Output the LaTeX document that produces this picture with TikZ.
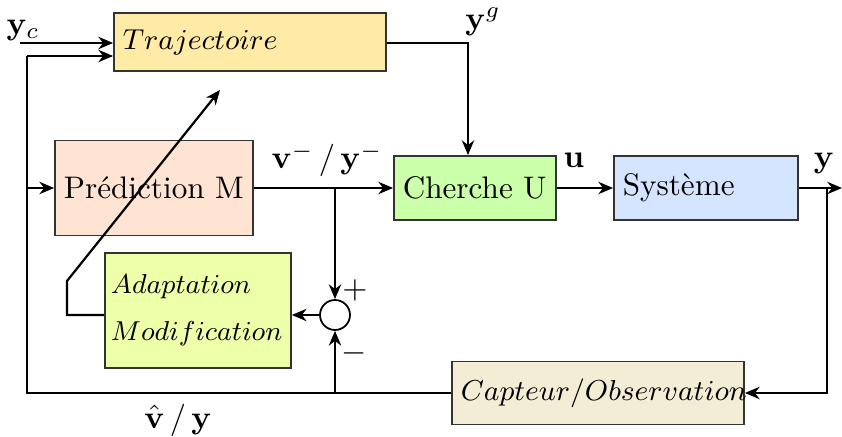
\RequirePackage{fix-cm}
\documentclass[tikz,border=0pt]{standalone}
\usetikzlibrary{arrows.meta}
\definecolor{ctraj}{HTML}{FFEBA6}
\definecolor{cpred}{HTML}{FFE4D4}
\definecolor{ccher}{HTML}{CCFFAA}
\definecolor{csys}{HTML}{D6E5FF}
\definecolor{cadapt}{HTML}{EEFFAA}
\definecolor{ccapt}{HTML}{F4EDD6}
\definecolor{cbord}{HTML}{333333}
\begin{document}
\begin{tikzpicture}[x=0.34pt,y=-0.34pt,
  blk/.style={draw=cbord, line width=0.6pt, inner xsep=3pt, inner ysep=0pt, align=left, anchor=center, font=\fontsize{10.6}{13}\selectfont},
  itblk/.style={blk, font=\fontsize{9.8}{12}\selectfont},
  sig/.style={line width=0.75pt, -{Stealth[length=5pt,width=4.2pt,inset=1.6pt]}},
  wire/.style={line width=0.75pt},
  lab/.style={inner sep=0pt, anchor=center, font=\fontsize{11}{13}\selectfont}]
\useasboundingbox (0,0) rectangle (842,437);
% blocks
\node[itblk, fill=ctraj, minimum width=92.5pt, minimum height=19.7pt, text width=86.5pt] (traj) at (250,42) {$Trajectoire$};
\node[blk, fill=cpred, minimum width=67.3pt, minimum height=32.3pt, text width=61.3pt] (pred) at (154,188) {Prédiction M};
\node[blk, fill=ccher, minimum width=55.1pt, minimum height=21.8pt, text width=49.1pt] (cher) at (475,188) {Cherche U};
\node[blk, fill=csys, minimum width=62.6pt, minimum height=21.8pt, text width=56.6pt] (sys) at (706,188) {Système};
\node[itblk, font=\fontsize{9.3}{12}\selectfont, inner xsep=2pt, fill=cadapt, minimum width=63.2pt, minimum height=39.1pt, text width=59.2pt] (adapt) at (198,310.5) {$Adaptation$\\[4pt]$Modification$};
\node[itblk, fill=ccapt, minimum width=99.3pt, minimum height=21.4pt, text width=93.3pt] (capt) at (598,393) {$Capteur/Observation$};
\node[draw=black, line width=0.6pt, circle, minimum size=10.2pt, inner sep=0pt, fill=white] (sum) at (335,315) {};
% coordinates
\coordinate (yc) at (20,43);
\coordinate (fbtop) at (27,56);
\coordinate (fbmid) at (27,188);
\coordinate (fbbot) at (27,393);
\coordinate (yg) at (468,43);
\coordinate (jv) at (335,188);
\coordinate (jb) at (335,393);
\coordinate (jy) at (827,188);
\coordinate (yout) at (842,188);
\coordinate (ad1) at (67,315);
\coordinate (ad2) at (67,281);
\coordinate (ad3) at (220,90);
% connectors
\draw[sig] (yc) -- (yc -| traj.west);
\draw[sig] (fbtop) -- (fbtop -| traj.west);
\draw[sig] (traj.east |- yg) -- (yg) -- (yg |- cher.north);
\draw[sig] (pred.east) -- (cher.west);
\draw[sig] (cher.east) -- (sys.west);
\draw[sig] (sys.east) -- (yout);
\draw[sig] (jy) -- (jy |- capt.east) -- (capt.east);
\draw[wire] (capt.west) -- (fbbot) -- (fbtop);
\draw[sig] (fbmid) -- (pred.west);
\draw[sig] (jv) -- (sum.north);
\draw[sig] (jb) -- (sum.south);
\draw[sig] (sum.west) -- (sum.west -| adapt.east);
\draw[sig] (adapt.west |- sum.west) -- (ad1) -- (ad2) -- (ad3);
% labels
\node[lab] (lyc) at (23,30) {$\mathbf{y}_c$};
\node[lab] (lyg) at (483,22) {$\mathbf{y}^g$};
\node[lab] (lv) at (327,160) {$\mathbf{v}^-\,/\,\mathbf{y}^-$};
\node[lab] (lu) at (574,160) {$\mathbf{u}$};
\node[lab] (ly) at (824,163) {$\mathbf{y}$};
\node[lab] (lvh) at (178,420) {$\hat{\mathbf{v}}\,/\,\mathbf{y}$};
\node[lab] (lplus) at (355,290) {$+$};
\node[lab] (lminus) at (354,353) {$-$};
\end{tikzpicture}
\end{document}
